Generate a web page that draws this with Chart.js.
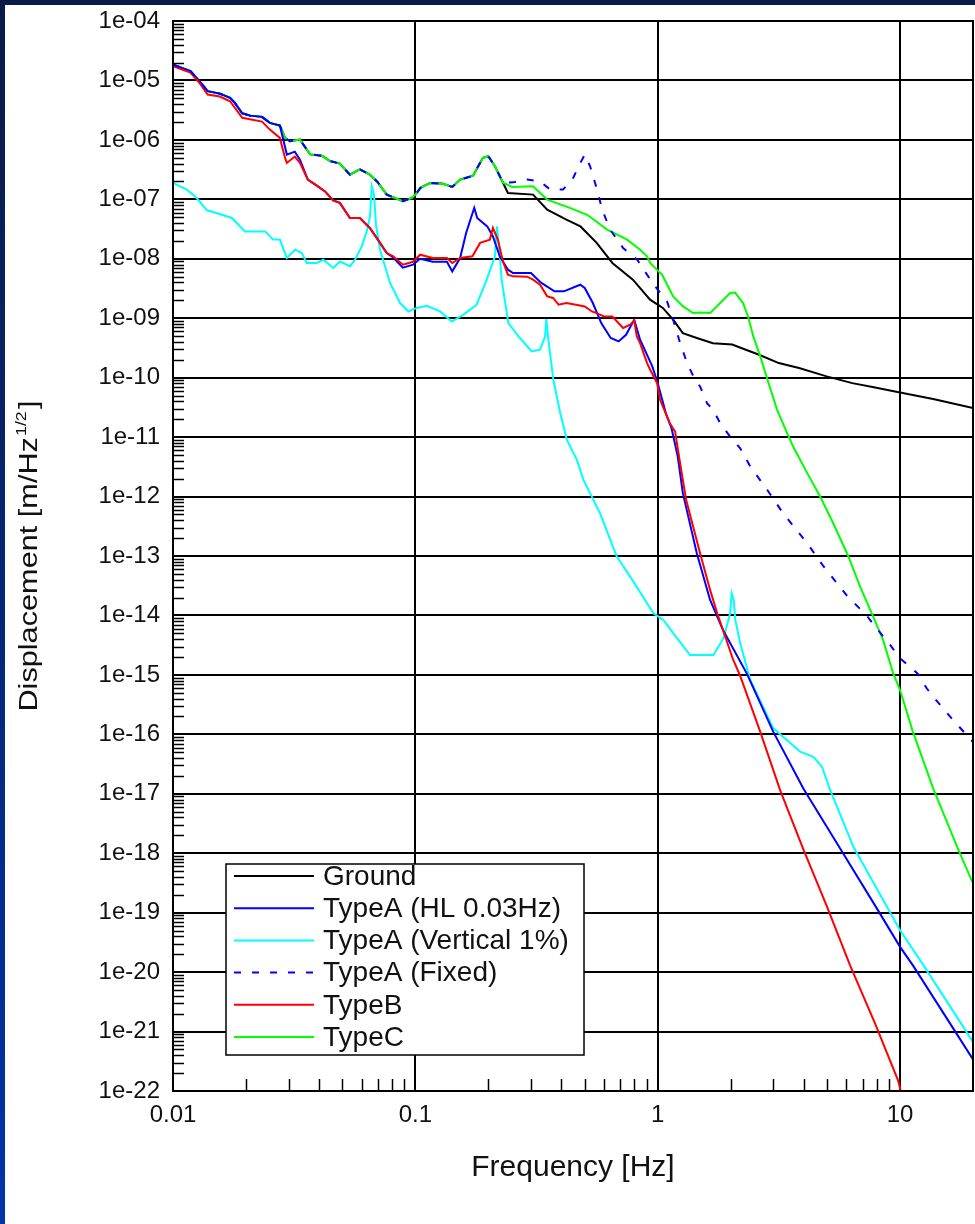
<!DOCTYPE html>
<html>
<head>
<meta charset="utf-8">
<title>Displacement spectra</title>
<script src="https://cdn.jsdelivr.net/npm/chart.js@4.4.1/dist/chart.umd.min.js"></script>
<style>
  html, body { margin: 0; padding: 0; }
  body {
    width: 975px; height: 1224px; position: relative; overflow: hidden;
    background: linear-gradient(180deg, #0a1a46 0%, #0034a8 100%);
  }
  #wrap { position: absolute; left: 5px; top: 5px; width: 970px; height: 1219px; background: #fff; }
</style>
</head>
<body>
<div id="wrap"><canvas id="chart" width="970" height="1219"></canvas></div>
<script>
// ---- data (frequency in Hz, displacement in m/Hz^1/2) ----

// common low-frequency part shared by Ground, TypeA (Fixed) and TypeC
const upperFreq = [0.01, 0.0118, 0.0129, 0.0139, 0.0156, 0.0172, 0.018, 0.0193, 0.0208, 0.0233, 0.0251, 0.0276,
  0.029, 0.0304, 0.0334, 0.0368, 0.0412, 0.0445, 0.0488, 0.0537, 0.059, 0.0649, 0.0695, 0.0762, 0.0888, 0.0969,
  0.1, 0.105, 0.115, 0.129, 0.142, 0.153, 0.173, 0.19, 0.2, 0.213, 0.23];
const upperVal = [1.85e-5, 1.43e-5, 9.5e-6, 6.6e-6, 6.0e-6, 5.1e-6, 4.2e-6, 2.8e-6, 2.56e-6, 2.44e-6, 1.93e-6, 1.74e-6,
  1.08e-6, 9.5e-7, 1.01e-6, 5.7e-7, 5.4e-7, 4.4e-7, 4.0e-7, 2.6e-7, 3.2e-7, 2.6e-7, 2.0e-7, 1.2e-7, 9.3e-8, 1.06e-7,
  1.2e-7, 1.56e-7, 1.89e-7, 1.84e-7, 1.62e-7, 2.15e-7, 2.5e-7, 5.0e-7, 5.3e-7, 3.6e-7, 1.9e-7];

const groundTailFreq = [0.241, 0.306, 0.35, 0.42, 0.48, 0.56, 0.65, 0.79, 0.93, 1.05, 1.16, 1.27, 1.45, 1.69, 2.03,
  2.31, 2.62, 3.16, 3.83, 4.98, 6.35, 7.7, 10, 13.7, 20];
const groundTailVal = [1.28e-7, 1.2e-7, 6.7e-8, 4.55e-8, 3.5e-8, 1.85e-8, 8.5e-9, 4.45e-9, 2.05e-9, 1.49e-9, 9.4e-10,
  5.6e-10, 4.65e-10, 3.8e-10, 3.6e-10, 2.95e-10, 2.43e-10, 1.76e-10, 1.45e-10, 1.05e-10, 8.1e-11, 6.95e-11, 5.64e-11,
  4.36e-11, 3.08e-11];

const typeCTailFreq = [0.251, 0.306, 0.35, 0.434, 0.512, 0.618, 0.748, 0.846, 0.904, 0.931, 1.023, 1.043, 1.158, 1.273,
  1.4, 1.496, 1.645, 1.81, 1.99, 2.085, 2.25, 2.36, 2.48, 2.65, 2.83, 3.11, 3.42, 3.62, 4.14, 4.68, 5.3, 6.11, 6.84,
  7.67, 8.51, 9.37, 10, 11.3, 13.7, 17.2, 20];
const typeCTailVal = [1.62e-7, 1.66e-7, 9.9e-8, 7.2e-8, 5.5e-8, 3.09e-8, 2.1e-8, 1.42e-8, 1.1e-8, 8.5e-9, 5.8e-9, 5.4e-9,
  2.33e-9, 1.58e-9, 1.22e-9, 1.25e-9, 1.22e-9, 1.8e-9, 2.66e-9, 2.7e-9, 1.8e-9, 1.07e-9, 4.94e-10, 2.28e-10, 9.6e-11,
  2.88e-11, 1.17e-11, 6.95e-12, 2.48e-12, 1e-12, 3.56e-13, 1.0e-13, 3.05e-14, 1.05e-14, 3.87e-15, 1.06e-15, 5.57e-16,
  1.1e-16, 1.23e-17, 1.28e-18, 3.1e-19];

const fixedTailFreq = [0.253, 0.289, 0.327, 0.36, 0.407, 0.448, 0.479, 0.501, 0.526, 0.562, 0.59, 0.636, 0.72, 0.822,
  0.957, 1.094, 1.158, 1.202, 1.237, 1.322, 1.426, 1.496, 1.6, 1.693, 1.81, 1.99, 2.19, 2.41, 2.83, 3.29, 4.14, 4.82,
  6.05, 7.31, 7.74, 9.1, 10, 11.8, 12.9, 13.7, 16.1, 20];
const fixedTailVal = [1.93e-7, 2.15e-7, 2.01e-7, 1.46e-7, 1.46e-7, 2.29e-7, 4.1e-7, 5.66e-7, 3.6e-7, 1.46e-7, 6.7e-8,
  3.1e-8, 1.52e-8, 9.7e-9, 3.8e-9, 1.9e-9, 9.4e-10, 5.7e-10, 3.82e-10, 1.76e-10, 9.2e-11, 7.1e-11, 3.7e-11, 2.88e-11,
  1.72e-11, 1.02e-11, 6.5e-12, 3.2e-12, 1.3e-12, 5.26e-13, 1.64e-13, 6.8e-14, 2.13e-14, 9.8e-15, 7.2e-15, 3.19e-15,
  1.9e-15, 1.06e-15, 5.9e-16, 4.3e-16, 1.98e-16, 7.4e-17];

const typeBFreq = [0.01, 0.0118, 0.0129, 0.0139, 0.0156, 0.0172, 0.0193, 0.0233, 0.0251, 0.0276, 0.029, 0.0295, 0.0318,
  0.0334, 0.036, 0.0392, 0.0424, 0.0458, 0.0488, 0.0537, 0.059, 0.0649, 0.0715, 0.0762, 0.081, 0.0888, 0.0978, 0.1046,
  0.118, 0.135, 0.142, 0.153, 0.172, 0.185, 0.203, 0.209, 0.219, 0.23, 0.241, 0.253, 0.289, 0.306, 0.327, 0.35, 0.37,
  0.39, 0.42, 0.46, 0.5, 0.535, 0.56, 0.6, 0.65, 0.72, 0.77, 0.8, 0.82, 0.846, 0.904, 0.931, 0.994, 1.023, 1.12, 1.18,
  1.237, 1.31, 1.496, 1.645, 1.76, 2.05, 2.19, 2.65, 3.2, 3.98, 5.0, 6.22, 7.89, 9.82, 10.5];
const typeBVal = [1.73e-5, 1.36e-5, 8.9e-6, 5.8e-6, 5.36e-6, 4.47e-6, 2.35e-6, 2.03e-6, 1.49e-6, 1.08e-6, 4.98e-7, 4.1e-7,
  5.24e-7, 4.1e-7, 2.15e-7, 1.7e-7, 1.36e-7, 9.6e-8, 8.7e-8, 4.86e-8, 4.86e-8, 3.3e-8, 1.85e-8, 1.25e-8, 1.1e-8,
  7.96e-9, 8.9e-9, 1.17e-8, 1.03e-8, 1.03e-8, 8.5e-9, 1.03e-8, 1.1e-8, 1.85e-8, 2.1e-8, 3.3e-8, 2.1e-8, 8.9e-9, 5.4e-9,
  5.06e-9, 5.0e-9, 4.45e-9, 3.66e-9, 2.33e-9, 2.19e-9, 1.69e-9, 1.8e-9, 1.69e-9, 1.58e-9, 1.3e-9, 1.22e-9, 1.07e-9,
  1.07e-9, 6.84e-10, 7.78e-10, 9.1e-10, 4.94e-10, 3.82e-10, 1.76e-10, 1.36e-10, 8.1e-11, 4.25e-11, 1.72e-11, 1.24e-11,
  3.65e-12, 8.8e-13, 1.11e-13, 2.69e-14, 1.09e-14, 1.78e-15, 9.6e-16, 1.1e-16, 1.15e-17, 1.2e-18, 1.25e-19, 1.3e-20,
  1.36e-21, 1.5e-22, 5e-23];

// TypeA (HL 0.03Hz): follows the common curve up to 0.0276 Hz, then this tail
const hlTailFreq = [0.0295, 0.0318, 0.0334, 0.036, 0.0392, 0.0424, 0.0458, 0.0488, 0.0537, 0.059, 0.0649, 0.0715,
  0.0762, 0.081, 0.0888, 0.0978, 0.1046, 0.118, 0.135, 0.142, 0.153, 0.162, 0.175, 0.18, 0.198, 0.209, 0.223, 0.241,
  0.253, 0.3, 0.33, 0.375, 0.41, 0.479, 0.5, 0.54, 0.585, 0.64, 0.69, 0.74, 0.8, 0.846, 0.95, 1.0, 1.08, 1.14, 1.21,
  1.27, 1.45, 1.645, 1.86, 2.33, 3.0, 3.99, 5.66, 8.02, 10, 11.3, 16.1, 20];
const hlTailVal = [5.66e-7, 6.35e-7, 4.66e-7, 2.15e-7, 1.7e-7, 1.36e-7, 9.6e-8, 8.7e-8, 4.86e-8, 4.86e-8, 3.3e-8,
  1.85e-8, 1.25e-8, 1.05e-8, 7.08e-9, 7.96e-9, 1.0e-8, 8.9e-9, 8.9e-9, 6.14e-9, 1.03e-8, 2.72e-8, 7.2e-8, 4.86e-8,
  3.51e-8, 2.38e-8, 1.1e-8, 6.55e-9, 5.77e-9, 5.77e-9, 3.96e-9, 2.83e-9, 2.83e-9, 3.66e-9, 3.22e-9, 1.8e-9, 8.3e-10,
  4.65e-10, 4.07e-10, 5.27e-10, 9.4e-10, 4.35e-10, 1.55e-10, 8.1e-11, 2.54e-11, 1.42e-11, 4.71e-12, 1.14e-12, 1.11e-13,
  1.82e-14, 5.7e-15, 1.06e-15, 1.1e-16, 1.23e-17, 1.2e-18, 1.18e-19, 2.66e-20, 1.3e-20, 1.36e-21, 3.4e-22];

const verticalFreq = [0.01, 0.0114, 0.0125, 0.0138, 0.0151, 0.0175, 0.0198, 0.024, 0.0259, 0.0276, 0.0295, 0.0319,
  0.034, 0.0356, 0.0392, 0.0417, 0.0459, 0.0488, 0.0521, 0.0537, 0.0564, 0.0601, 0.063, 0.065, 0.0661, 0.0675, 0.0688,
  0.0715, 0.0786, 0.0865, 0.0936, 0.1013, 0.1114, 0.1265, 0.1413, 0.158, 0.179, 0.197, 0.213, 0.217, 0.222, 0.227,
  0.242, 0.27, 0.302, 0.327, 0.343, 0.347, 0.354, 0.371, 0.396, 0.422, 0.464, 0.494, 0.578, 0.678, 0.794, 0.96, 1.056,
  1.16, 1.36, 1.70, 1.87, 1.99, 2.02, 2.06, 2.09, 2.19, 2.41, 3.0, 3.87, 4.39, 4.76, 5.15, 6.42, 10, 12.5, 20];
const verticalVal = [1.89e-7, 1.46e-7, 1.06e-7, 6.53e-8, 5.9e-8, 4.86e-8, 2.89e-8, 2.89e-8, 2.1e-8, 2.1e-8, 1.03e-8,
  1.42e-8, 1.25e-8, 8.5e-9, 8.5e-9, 9.66e-9, 7.0e-9, 9.0e-9, 7.96e-9, 7.45e-9, 9.66e-9, 1.62e-8, 2.89e-8, 5.18e-8,
  1.66e-7, 1.2e-7, 3.75e-8, 1.42e-8, 3.92e-9, 1.8e-9, 1.3e-9, 1.49e-9, 1.62e-9, 1.3e-9, 8.8e-10, 1.15e-9, 1.69e-9,
  4.45e-9, 1.1e-8, 3.51e-8, 1.42e-8, 4.45e-9, 8.3e-10, 4.65e-10, 2.76e-10, 2.95e-10, 4.94e-10, 9.7e-10, 4.35e-10,
  9.2e-11, 2.54e-11, 9.0e-12, 4.15e-12, 1.91e-12, 5.26e-13, 9.8e-14, 3.7e-14, 1.09e-14, 8.4e-15, 5.0e-15, 2.16e-15,
  2.16e-15, 4.18e-15, 1.09e-14, 2.37e-14, 1.8e-14, 8.4e-15, 3.4e-15, 8.2e-16, 1.26e-16, 5.1e-17, 4.2e-17, 2.85e-17,
  1.15e-17, 1.28e-18, 5.07e-20, 1.3e-20, 6.7e-22];

const seriesLabels = ['Ground', 'TypeA (HL 0.03Hz)', 'TypeA (Vertical 1%)', 'TypeA (Fixed)', 'TypeB', 'TypeC'];

const xTickValues = [0.01, 0.1, 1, 10];
const xTickLabels = ['0.01', '0.1', '1', '10'];
const yTickValues = [1e-4, 1e-5, 1e-6, 1e-7, 1e-8, 1e-9, 1e-10, 1e-11, 1e-12, 1e-13, 1e-14, 1e-15, 1e-16, 1e-17,
  1e-18, 1e-19, 1e-20, 1e-21, 1e-22];
const yTickLabels = ['1e-04', '1e-05', '1e-06', '1e-07', '1e-08', '1e-09', '1e-10', '1e-11', '1e-12', '1e-13',
  '1e-14', '1e-15', '1e-16', '1e-17', '1e-18', '1e-19', '1e-20', '1e-21', '1e-22'];

// ---- chart ----
const FONT = "'Liberation Sans', Arial, Helvetica, sans-serif";
const HL_SPLIT = 12; // HL curve shares the first 12 common points

function toPoints(xs, ys) {
    return xs.map((x, i) => ({ x: x, y: ys[i] }));
}

function line(label, freq, val, color, order, dash) {
    return {
        label: label,
        data: toPoints(freq, val),
        borderColor: color,
        backgroundColor: color,
        borderWidth: 2,
        borderDash: dash || [],
        pointRadius: 0,
        fill: false,
        tension: 0,
        order: order
    };
}

// minor log ticks, outer frame, in-plot legend and the y title with its superscript
const decorPlugin = {
    id: 'decor',
    afterDraw(chart) {
        const { ctx, chartArea: a, scales } = chart;
        ctx.save();

        ctx.strokeStyle = '#000';
        ctx.lineWidth = 1.5;
        ctx.beginPath();
        for (let e = -22; e < -4; e++) {
            for (let m = 2; m <= 9; m++) {
                const y = Math.round(scales.y.getPixelForValue(m * Math.pow(10, e))) + 0.5;
                ctx.moveTo(a.left, y);
                ctx.lineTo(a.left + 11, y);
            }
        }
        for (let e = -2; e <= 1; e++) {
            for (let m = 2; m <= 9; m++) {
                const v = m * Math.pow(10, e);
                if (v >= 20) break;
                const x = Math.round(scales.x.getPixelForValue(v)) + 0.5;
                ctx.moveTo(x, a.bottom);
                ctx.lineTo(x, a.bottom - 12);
            }
        }
        ctx.stroke();

        ctx.lineWidth = 2;
        ctx.strokeRect(a.left, a.top, a.right - a.left, a.bottom - a.top);

        // legend box
        const bx = a.left + 53, bw = 358, bh = 191;
        const by = a.bottom - 36 - bh;
        ctx.fillStyle = '#fff';
        ctx.fillRect(bx, by, bw, bh);
        ctx.lineWidth = 1.5;
        ctx.strokeRect(bx, by, bw, bh);
        ctx.font = '28px ' + FONT;
        ctx.textBaseline = 'middle';
        ctx.textAlign = 'left';
        chart.data.datasets.forEach((ds, i) => {
            const cy = by + 12 + i * 32.2;
            ctx.strokeStyle = ds.borderColor;
            ctx.lineWidth = 2;
            ctx.setLineDash(ds.borderDash);
            ctx.beginPath();
            ctx.moveTo(bx + 8, cy);
            ctx.lineTo(bx + 88, cy);
            ctx.stroke();
            ctx.setLineDash([]);
            ctx.fillStyle = '#111';
            ctx.fillText(ds.label, bx + 97, cy + 1);
        });

        // y axis title, rotated, with superscript 1/2 (stretched along its length like the original)
        const main = 'Displacement [m/Hz', sup = '1/2', end = ']';
        const stretch = 1.18;
        ctx.translate(32, (a.top + a.bottom) / 2);
        ctx.rotate(-Math.PI / 2);
        ctx.scale(stretch, 1);
        ctx.textBaseline = 'alphabetic';
        ctx.fillStyle = '#111';
        ctx.font = '26px ' + FONT;
        const w1 = ctx.measureText(main).width;
        const w3 = ctx.measureText(end).width;
        ctx.font = '15px ' + FONT;
        const w2 = ctx.measureText(sup).width;
        const x0 = -(w1 + w2 + w3 + 3) / 2;
        ctx.font = '26px ' + FONT;
        ctx.fillText(main, x0, 0);
        ctx.font = '15px ' + FONT;
        ctx.fillText(sup, x0 + w1 + 1, -11);
        ctx.font = '26px ' + FONT;
        ctx.fillText(end, x0 + w1 + w2 + 3, 0);

        ctx.restore();
    }
};

const ctx = document.getElementById('chart').getContext('2d');
new Chart(ctx, {
    type: 'line',
    data: {
        datasets: [
            line(seriesLabels[0], upperFreq.concat(groundTailFreq), upperVal.concat(groundTailVal), '#000000', 6),
            line(seriesLabels[1], upperFreq.slice(0, HL_SPLIT).concat(hlTailFreq),
                upperVal.slice(0, HL_SPLIT).concat(hlTailVal), '#0000ff', 3),
            line(seriesLabels[2], verticalFreq, verticalVal, '#00ffff', 5),
            line(seriesLabels[3], upperFreq.concat(fixedTailFreq), upperVal.concat(fixedTailVal), '#0000ff', 1, [7, 11]),
            line(seriesLabels[4], typeBFreq, typeBVal, '#ff0000', 2),
            line(seriesLabels[5], upperFreq.concat(typeCTailFreq), upperVal.concat(typeCTailVal), '#00ff00', 4)
        ]
    },
    options: {
        responsive: false,
        animation: false,
        devicePixelRatio: 1,
        layout: { padding: { top: 16, right: 2, left: 0, bottom: 0 } },
        plugins: {
            legend: { display: false },
            tooltip: { enabled: false }
        },
        scales: {
            x: {
                type: 'logarithmic',
                min: 0.01,
                max: 20,
                afterBuildTicks: (s) => { s.ticks = xTickValues.map(v => ({ value: v })); },
                afterFit: (s) => { s.height = 133; s.paddingLeft = 0; s.paddingRight = 0; },
                ticks: {
                    autoSkip: false,
                    maxRotation: 0,
                    padding: 10,
                    color: '#111',
                    font: { family: FONT, size: 24 },
                    callback: (v, i) => xTickLabels[i]
                },
                grid: { color: '#000', lineWidth: 2, drawTicks: false },
                border: { color: '#000', width: 2 },
                title: {
                    display: true,
                    text: 'Frequency [Hz]',
                    color: '#111',
                    font: { family: FONT, size: 30 },
                    padding: { top: 0, bottom: 38 }
                }
            },
            y: {
                type: 'logarithmic',
                min: 1e-22,
                max: 1e-4,
                afterBuildTicks: (s) => { s.ticks = yTickValues.map(v => ({ value: v })); },
                afterFit: (s) => { s.width = 168; s.paddingTop = 0; s.paddingBottom = 0; },
                ticks: {
                    autoSkip: false,
                    padding: 13,
                    color: '#111',
                    font: { family: FONT, size: 24 },
                    callback: (v, i) => yTickLabels[i]
                },
                grid: { color: '#000', lineWidth: 2, drawTicks: false },
                border: { color: '#000', width: 2 }
            }
        }
    },
    plugins: [decorPlugin]
});
</script>
</body>
</html>
